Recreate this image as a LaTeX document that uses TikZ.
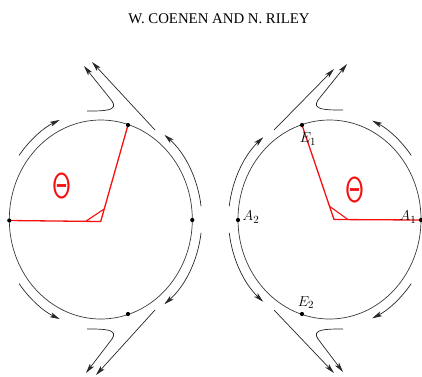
\documentclass[tikz,border=0pt]{standalone}
\usepackage{fontspec}
\setmainfont{Liberation Serif}
\usetikzlibrary{arrows.meta, calc}
\definecolor{rimgray}{HTML}{3A3A3A}
\definecolor{anglered}{HTML}{F50F0F}

\begin{document}
\begin{tikzpicture}[
  x=1pt, y=-1pt,
  rim/.style={draw=rimgray, line width=0.7pt},
  flow/.style={draw=black!85, line width=0.7pt,
               -{Stealth[length=10pt, width=5pt, inset=2.5pt]}},
  radiusline/.style={draw=anglered, line width=1.3pt, line join=round},
  anglemark/.style={draw=anglered, line width=1.1pt},
  dot/.style={circle, fill=black, inner sep=0pt, minimum size=4.2pt},
  lab/.style={font=\fontsize{15}{17}\selectfont, inner sep=0pt},
  thetalab/.style={font=\sffamily\fontsize{36}{38}\selectfont, text=anglered,
                   xscale=0.72, inner sep=0pt}
]
  \useasboundingbox (0,0) rectangle (422,376);

  \node[font=\fontsize{14.8}{17}\selectfont] (title) at (219,18.5) {W. COENEN AND N. RILEY};

  \coordinate (cl) at (100.8,219.5);
  \coordinate (cr) at (329.5,219.5);
  \coordinate (vl) at (100.7,221.5);
  \coordinate (vr) at (334,219.5);

  \draw[rim] (cl) ellipse [x radius=91.5pt, y radius=99.5pt];
  \draw[rim] (cr) ellipse [x radius=91.5pt, y radius=99.5pt];

  \coordinate (lw) at (9.3,220.5);
  \coordinate (le) at (192.3,220);
  \coordinate (ln) at (128,125);
  \coordinate (ls) at (128,314);
  \coordinate (a2) at (238,220);
  \coordinate (a1) at (421,220);
  \coordinate (e1) at (302,125);
  \coordinate (e2) at (302,314);

  \draw[radiusline] (lw) -- (vl) -- (ln);
  \draw[anglemark] ($(vl)!15pt!(lw)$) -- ($(vl)!13pt!(ln)$);
  \draw[radiusline] (a1) -- (vr) -- (e1);
  \draw[anglemark] ($(vr)!14pt!(a1)$) -- ($(vr)!14pt!(e1)$);

  \foreach \p in {lw, le, ln, ls, a2, a1, e1, e2}
    \node[dot] (dot-\p) at (\p) {};

  \node[thetalab] (thetal) at (62,185.5) {Θ};
  \node[thetalab] (thetar) at (355,190) {Θ};

  \node[lab] (e1lab) at (308,139) {$E_1$};
  \node[lab] (e2lab) at (306,302.5) {$E_2$};
  \node[lab] (a2lab) at (251,217) {$A_2$};
  \node[lab] (a1lab) at (408,217) {$A_1$};

  \foreach \c/\s/\e in {cl/144/114, cl/7/51, cl/216/246, cl/-7/-51,
                        cr/173/131, cr/36/65, cr/187/229, cr/-36/-65}
    \draw[flow] ($(\c)+(\s:101pt and 109pt)$)
      arc[start angle=\s, end angle=\e, x radius=101pt, y radius=109pt];

  \draw[flow] (155,130) -- (92,62);
  \draw[flow] (87,111) .. controls (104,111) and (119,111) .. (112,101) -- (84,66);
  \draw[flow] (155,310) -- (96,375);
  \draw[flow] (87,329) .. controls (104,329) and (119,329) .. (112,339) -- (86,373);

  \draw[flow] (274,130) -- (334,69);
  \draw[flow] (343,110) .. controls (326,110) and (311,110) .. (318,100) -- (347,64);
  \draw[flow] (274,310) -- (334,373);
  \draw[flow] (343,329) .. controls (326,329) and (311,329) .. (318,339) -- (343,372);
\end{tikzpicture}
\end{document}
